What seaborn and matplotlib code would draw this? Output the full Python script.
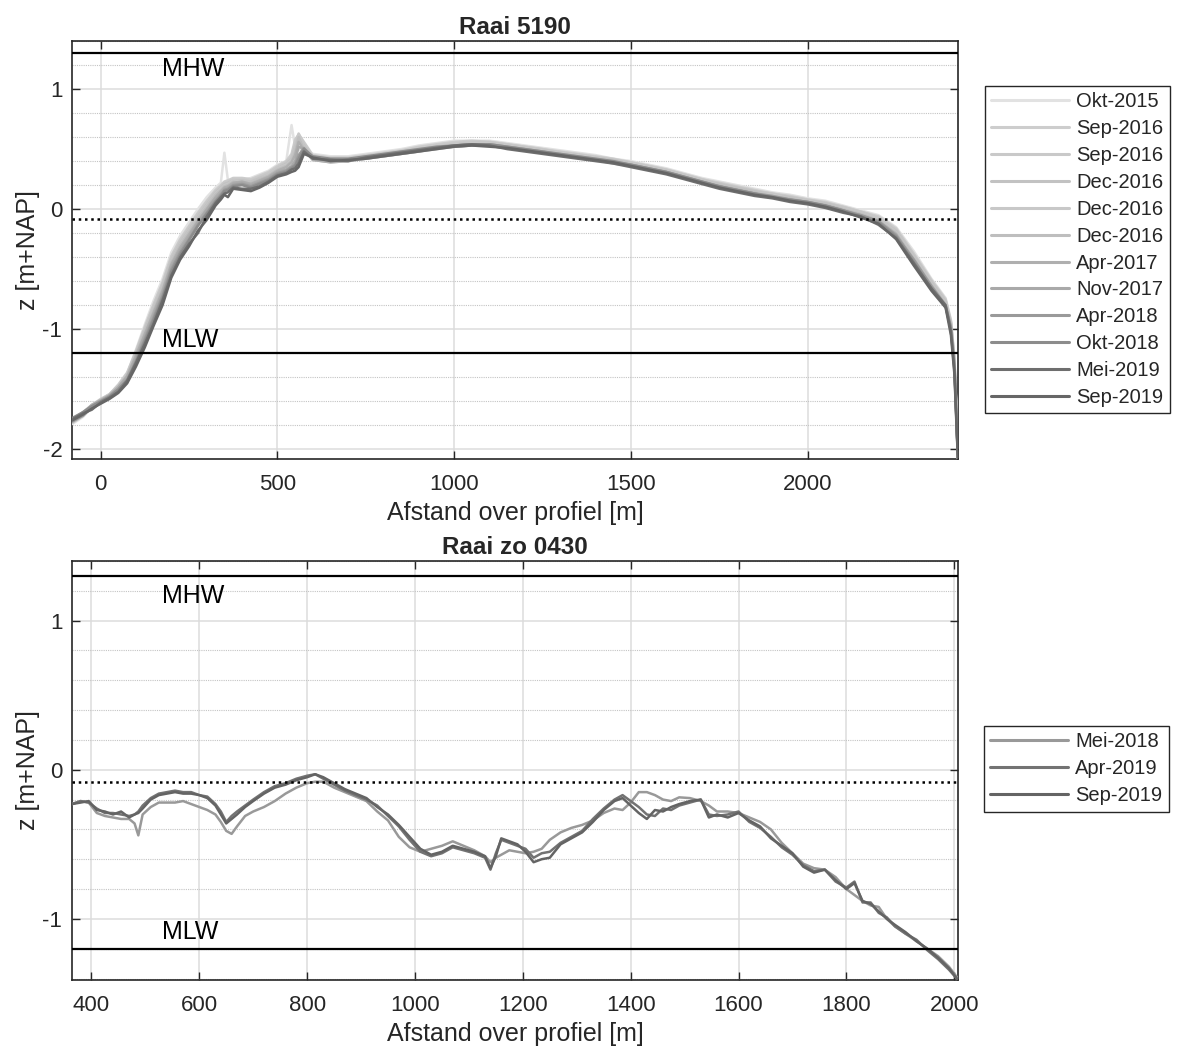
import pandas as pd
import matplotlib
matplotlib.use("Agg")
import matplotlib.pyplot as plt
from matplotlib.lines import Line2D
from matplotlib.ticker import MultipleLocator
import seaborn as sns

# ==========================================
# Data: hoogteprofielen (z in m+NAP)
# ==========================================

MHW = 1.3
MLW = -1.2
DOT_LEVEL = -0.08

# --- Raai 5190 ---
top_labels = ['Okt-2015', 'Sep-2016', 'Sep-2016', 'Dec-2016', 'Dec-2016', 'Dec-2016',
              'Apr-2017', 'Nov-2017', 'Apr-2018', 'Okt-2018', 'Mei-2019', 'Sep-2019']
top_colors = ['#e2e2e2', '#cdcdcd', '#c9c9c9', '#c2c2c2', '#c8c8c8', '#bebebe',
              '#afafaf', '#a9a9a9', '#9a9a9a', '#8c8c8c', '#6e6e6e', '#666666']

x_top = [-81, -50, -25, 0, 25, 50, 75, 100, 125, 150,
         175, 200, 225, 250, 275, 300, 325, 340, 350, 360,
         375, 400, 425, 450, 475, 500, 525, 540, 550, 560,
         575, 600, 650, 700, 750, 800, 850, 900, 950, 1000,
         1050, 1100, 1150, 1200, 1250, 1300, 1350, 1400, 1450, 1500,
         1550, 1600, 1650, 1700, 1750, 1800, 1850, 1900, 1950, 2000,
         2050, 2100, 2150, 2200, 2250, 2300, 2350, 2390, 2405, 2415,
         2422, 2425]

z_okt2015 = [-1.79, -1.73, -1.65, -1.60, -1.55, -1.47, -1.37, -1.17, -0.96, -0.76,
             -0.58, -0.36, -0.22, -0.11, 0.00, 0.10, 0.18, 0.22, 0.47, 0.24,
             0.22, 0.24, 0.26, 0.29, 0.32, 0.37, 0.40, 0.70, 0.52, 0.50,
             0.48, 0.46, 0.44, 0.44, 0.46, 0.48, 0.50, 0.53, 0.55, 0.57,
             0.57, 0.57, 0.55, 0.53, 0.51, 0.49, 0.47, 0.45, 0.42, 0.40,
             0.37, 0.34, 0.30, 0.26, 0.23, 0.20, 0.17, 0.14, 0.12, 0.09,
             0.07, 0.03, -0.01, -0.05, -0.15, -0.35, -0.58, -0.74, -0.92, -1.24,
             -1.78, -2.08]
z_sep2016a = [-1.78, -1.72, -1.64, -1.59, -1.54, -1.46, -1.36, -1.18, -0.98, -0.79,
              -0.61, -0.39, -0.25, -0.14, -0.03, 0.07, 0.16, 0.20, 0.23, 0.24,
              0.26, 0.26, 0.25, 0.28, 0.31, 0.36, 0.40, 0.46, 0.58, 0.62,
              0.56, 0.45, 0.43, 0.43, 0.45, 0.47, 0.49, 0.52, 0.54, 0.56,
              0.57, 0.56, 0.54, 0.52, 0.50, 0.48, 0.46, 0.44, 0.42, 0.39,
              0.36, 0.33, 0.29, 0.25, 0.22, 0.19, 0.16, 0.13, 0.11, 0.08,
              0.06, 0.02, -0.02, -0.06, -0.16, -0.37, -0.59, -0.75, -0.93, -1.25,
              -1.79, -2.08]
z_sep2016b = [-1.77, -1.71, -1.63, -1.58, -1.54, -1.47, -1.37, -1.19, -0.99, -0.80,
              -0.62, -0.40, -0.26, -0.15, -0.04, 0.06, 0.15, 0.19, 0.22, 0.23,
              0.25, 0.25, 0.24, 0.27, 0.30, 0.35, 0.39, 0.44, 0.55, 0.63,
              0.55, 0.44, 0.42, 0.42, 0.44, 0.46, 0.48, 0.51, 0.53, 0.55,
              0.56, 0.56, 0.54, 0.52, 0.50, 0.47, 0.45, 0.43, 0.41, 0.39,
              0.36, 0.33, 0.29, 0.25, 0.21, 0.18, 0.15, 0.13, 0.10, 0.08,
              0.05, 0.02, -0.02, -0.07, -0.17, -0.38, -0.60, -0.76, -0.94, -1.26,
              -1.80, -2.08]
z_dec2016a = [-1.76, -1.70, -1.63, -1.59, -1.55, -1.48, -1.38, -1.20, -1.01, -0.82,
              -0.64, -0.42, -0.28, -0.17, -0.06, 0.04, 0.14, 0.18, 0.21, 0.22,
              0.24, 0.24, 0.23, 0.26, 0.29, 0.34, 0.38, 0.42, 0.52, 0.60,
              0.53, 0.43, 0.41, 0.41, 0.43, 0.45, 0.48, 0.50, 0.52, 0.54,
              0.55, 0.55, 0.53, 0.51, 0.49, 0.47, 0.45, 0.43, 0.41, 0.38,
              0.35, 0.32, 0.28, 0.24, 0.21, 0.18, 0.15, 0.12, 0.10, 0.07,
              0.05, 0.01, -0.03, -0.08, -0.18, -0.39, -0.61, -0.77, -0.95, -1.27,
              -1.80, -2.08]
z_dec2016b = [-1.78, -1.72, -1.65, -1.61, -1.57, -1.50, -1.41, -1.23, -1.03, -0.83,
              -0.65, -0.43, -0.29, -0.18, -0.07, 0.03, 0.13, 0.17, 0.20, 0.21,
              0.24, 0.23, 0.22, 0.25, 0.29, 0.34, 0.37, 0.41, 0.50, 0.62,
              0.52, 0.42, 0.40, 0.41, 0.43, 0.45, 0.47, 0.49, 0.52, 0.54,
              0.55, 0.55, 0.53, 0.51, 0.49, 0.47, 0.45, 0.43, 0.40, 0.38,
              0.35, 0.32, 0.28, 0.24, 0.20, 0.17, 0.14, 0.12, 0.09, 0.07,
              0.04, 0.01, -0.03, -0.08, -0.19, -0.40, -0.62, -0.78, -0.96, -1.28,
              -1.82, -2.08]
z_dec2016c = [-1.77, -1.71, -1.64, -1.60, -1.56, -1.49, -1.40, -1.22, -1.03, -0.84,
              -0.66, -0.44, -0.30, -0.19, -0.08, 0.02, 0.12, 0.16, 0.19, 0.20,
              0.23, 0.22, 0.22, 0.25, 0.28, 0.33, 0.36, 0.40, 0.48, 0.60,
              0.50, 0.41, 0.39, 0.40, 0.42, 0.44, 0.46, 0.48, 0.51, 0.53,
              0.54, 0.54, 0.52, 0.50, 0.48, 0.46, 0.44, 0.42, 0.40, 0.37,
              0.34, 0.31, 0.27, 0.23, 0.20, 0.17, 0.14, 0.11, 0.09, 0.06,
              0.04, 0.00, -0.04, -0.09, -0.20, -0.41, -0.63, -0.79, -0.97, -1.29,
              -1.83, -2.08]
z_apr2017 = [-1.75, -1.69, -1.63, -1.59, -1.55, -1.48, -1.39, -1.22, -1.04, -0.86,
             -0.68, -0.46, -0.32, -0.21, -0.10, 0.00, 0.10, 0.15, 0.18, 0.19,
             0.22, 0.23, 0.21, 0.24, 0.27, 0.32, 0.35, 0.39, 0.45, 0.56,
             0.49, 0.41, 0.39, 0.40, 0.42, 0.44, 0.46, 0.48, 0.50, 0.52,
             0.53, 0.53, 0.51, 0.49, 0.47, 0.45, 0.43, 0.41, 0.38, 0.36,
             0.33, 0.30, 0.26, 0.22, 0.18, 0.15, 0.13, 0.10, 0.07, 0.05,
             0.02, -0.02, -0.06, -0.11, -0.22, -0.44, -0.66, -0.82, -1.01, -1.33,
             -1.86, -2.08]
z_nov2017 = [-1.76, -1.70, -1.64, -1.60, -1.55, -1.49, -1.40, -1.24, -1.06, -0.88,
             -0.70, -0.48, -0.34, -0.23, -0.11, -0.01, 0.09, 0.13, 0.17, 0.18,
             0.21, 0.22, 0.20, 0.23, 0.26, 0.31, 0.33, 0.36, 0.40, 0.52,
             0.50, 0.42, 0.40, 0.41, 0.42, 0.45, 0.47, 0.49, 0.51, 0.53,
             0.54, 0.54, 0.52, 0.50, 0.48, 0.45, 0.43, 0.41, 0.39, 0.36,
             0.33, 0.30, 0.26, 0.22, 0.19, 0.16, 0.13, 0.10, 0.08, 0.05,
             0.03, -0.01, -0.05, -0.10, -0.21, -0.43, -0.65, -0.81, -0.99, -1.31,
             -1.84, -2.08]
z_apr2018 = [-1.77, -1.72, -1.65, -1.61, -1.57, -1.51, -1.43, -1.26, -1.08, -0.90,
             -0.72, -0.50, -0.36, -0.25, -0.13, -0.03, 0.07, 0.12, 0.16, 0.17,
             0.20, 0.21, 0.19, 0.22, 0.25, 0.30, 0.32, 0.35, 0.37, 0.45,
             0.51, 0.43, 0.41, 0.41, 0.43, 0.45, 0.47, 0.49, 0.51, 0.52,
             0.53, 0.53, 0.51, 0.49, 0.47, 0.45, 0.43, 0.41, 0.39, 0.37,
             0.34, 0.31, 0.27, 0.23, 0.19, 0.16, 0.13, 0.11, 0.08, 0.06,
             0.03, -0.01, -0.05, -0.10, -0.22, -0.42, -0.64, -0.80, -0.98, -1.30,
             -1.85, -2.08]
z_okt2018 = [-1.74, -1.69, -1.64, -1.60, -1.56, -1.50, -1.42, -1.27, -1.10, -0.92,
             -0.74, -0.52, -0.38, -0.26, -0.14, -0.04, 0.06, 0.11, 0.15, 0.16,
             0.19, 0.20, 0.18, 0.21, 0.24, 0.29, 0.31, 0.34, 0.36, 0.42,
             0.50, 0.44, 0.42, 0.42, 0.44, 0.46, 0.48, 0.50, 0.52, 0.53,
             0.54, 0.54, 0.52, 0.50, 0.48, 0.46, 0.44, 0.42, 0.40, 0.37,
             0.34, 0.31, 0.27, 0.23, 0.19, 0.16, 0.13, 0.10, 0.08, 0.06,
             0.03, -0.01, -0.06, -0.11, -0.23, -0.44, -0.66, -0.81, -1.00, -1.32,
             -1.86, -2.08]
z_mei2019 = [-1.75, -1.70, -1.67, -1.61, -1.57, -1.52, -1.43, -1.28, -1.12, -0.95,
             -0.76, -0.55, -0.40, -0.29, -0.20, -0.06, 0.05, 0.10, 0.13, 0.14,
             0.18, 0.17, 0.17, 0.19, 0.23, 0.28, 0.30, 0.33, 0.34, 0.38,
             0.48, 0.42, 0.41, 0.40, 0.43, 0.45, 0.47, 0.49, 0.51, 0.53,
             0.54, 0.53, 0.50, 0.48, 0.46, 0.44, 0.42, 0.40, 0.38, 0.35,
             0.32, 0.29, 0.25, 0.21, 0.17, 0.14, 0.11, 0.09, 0.06, 0.04,
             0.01, -0.03, -0.06, -0.13, -0.24, -0.45, -0.66, -0.80, -1.02, -1.35,
             -1.88, -2.08]
z_sep2019 = [-1.76, -1.71, -1.66, -1.62, -1.58, -1.53, -1.45, -1.31, -1.15, -0.97,
             -0.80, -0.57, -0.42, -0.31, -0.18, -0.09, 0.03, 0.08, 0.12, 0.10,
             0.17, 0.16, 0.15, 0.18, 0.22, 0.27, 0.29, 0.31, 0.32, 0.35,
             0.46, 0.43, 0.40, 0.41, 0.42, 0.44, 0.46, 0.48, 0.50, 0.52,
             0.53, 0.52, 0.51, 0.49, 0.47, 0.45, 0.43, 0.41, 0.39, 0.36,
             0.33, 0.30, 0.26, 0.22, 0.18, 0.15, 0.12, 0.10, 0.07, 0.05,
             0.02, -0.02, -0.07, -0.12, -0.25, -0.47, -0.68, -0.82, -1.05, -1.38,
             -1.90, -2.08]

top_series = [z_okt2015, z_sep2016a, z_sep2016b, z_dec2016a, z_dec2016b, z_dec2016c,
              z_apr2017, z_nov2017, z_apr2018, z_okt2018, z_mei2019, z_sep2019]

# --- Raai zo 0430 ---
bot_labels = ['Mei-2018', 'Apr-2019', 'Sep-2019']
bot_colors = ['#999999', '#737373', '#646464']

x_bot = [364, 380, 395, 410, 425, 440, 455, 470, 480, 487,
         495, 510, 525, 540, 555, 570, 585, 600, 615, 630,
         640, 650, 660, 670, 685, 700, 720, 740, 760, 780,
         800, 815, 830, 850, 870, 890, 910, 930, 950, 970,
         990, 1010, 1030, 1050, 1070, 1090, 1110, 1130, 1140, 1150,
         1160, 1175, 1190, 1205, 1220, 1235, 1250, 1270, 1290, 1310,
         1330, 1350, 1370, 1385, 1400, 1415, 1430, 1445, 1460, 1475,
         1490, 1510, 1530, 1545, 1560, 1580, 1600, 1620, 1640, 1660,
         1680, 1700, 1720, 1740, 1760, 1780, 1800, 1815, 1830, 1845,
         1860, 1875, 1890, 1910, 1930, 1950, 1970, 1990, 2007]

zb_mei2018 = [-0.23, -0.21, -0.22, -0.29, -0.31, -0.32, -0.33, -0.33, -0.36, -0.44,
              -0.30, -0.25, -0.22, -0.22, -0.22, -0.21, -0.23, -0.25, -0.27, -0.30,
              -0.35, -0.41, -0.43, -0.38, -0.31, -0.28, -0.25, -0.21, -0.16, -0.12,
              -0.09, -0.08, -0.08, -0.12, -0.15, -0.18, -0.21, -0.28, -0.34, -0.45,
              -0.52, -0.55, -0.53, -0.51, -0.48, -0.51, -0.54, -0.58, -0.62, -0.59,
              -0.57, -0.54, -0.55, -0.56, -0.55, -0.53, -0.47, -0.42, -0.39, -0.37,
              -0.34, -0.29, -0.26, -0.27, -0.22, -0.15, -0.15, -0.17, -0.20, -0.21,
              -0.185, -0.19, -0.21, -0.24, -0.28, -0.28, -0.29, -0.32, -0.35, -0.40,
              -0.49, -0.56, -0.63, -0.66, -0.67, -0.72, -0.80, -0.84, -0.88, -0.91,
              -0.92, -1.00, -1.05, -1.10, -1.15, -1.20, -1.25, -1.32, -1.40]
zb_apr2019 = [-0.23, -0.21, -0.22, -0.26, -0.29, -0.29, -0.30, -0.31, -0.30, -0.28,
              -0.24, -0.19, -0.16, -0.15, -0.14, -0.15, -0.15, -0.17, -0.18, -0.23,
              -0.28, -0.35, -0.31, -0.28, -0.24, -0.20, -0.15, -0.11, -0.09, -0.06,
              -0.04, -0.03, -0.06, -0.10, -0.14, -0.17, -0.20, -0.24, -0.31, -0.38,
              -0.47, -0.55, -0.58, -0.56, -0.52, -0.54, -0.56, -0.59, -0.67, -0.56,
              -0.47, -0.49, -0.51, -0.53, -0.59, -0.56, -0.55, -0.49, -0.45, -0.41,
              -0.33, -0.26, -0.20, -0.17, -0.21, -0.25, -0.30, -0.31, -0.26, -0.27,
              -0.24, -0.22, -0.20, -0.30, -0.31, -0.30, -0.28, -0.35, -0.39, -0.45,
              -0.52, -0.57, -0.64, -0.68, -0.67, -0.75, -0.79, -0.75, -0.89, -0.89,
              -0.96, -0.99, -1.05, -1.10, -1.14, -1.21, -1.27, -1.34, -1.41]
zb_sep2019 = [-0.23, -0.22, -0.21, -0.27, -0.28, -0.30, -0.28, -0.32, -0.30, -0.29,
              -0.26, -0.20, -0.17, -0.16, -0.15, -0.16, -0.16, -0.17, -0.19, -0.24,
              -0.30, -0.36, -0.33, -0.30, -0.25, -0.21, -0.16, -0.12, -0.10, -0.07,
              -0.05, -0.03, -0.05, -0.09, -0.13, -0.16, -0.19, -0.25, -0.30, -0.37,
              -0.45, -0.53, -0.57, -0.55, -0.51, -0.53, -0.55, -0.58, -0.66, -0.58,
              -0.46, -0.48, -0.50, -0.55, -0.62, -0.60, -0.59, -0.50, -0.46, -0.42,
              -0.35, -0.27, -0.21, -0.19, -0.24, -0.29, -0.33, -0.27, -0.28, -0.25,
              -0.23, -0.21, -0.20, -0.32, -0.30, -0.32, -0.29, -0.34, -0.38, -0.46,
              -0.51, -0.56, -0.65, -0.69, -0.67, -0.74, -0.80, -0.76, -0.88, -0.90,
              -0.95, -1.00, -1.04, -1.09, -1.15, -1.20, -1.26, -1.33, -1.41]

bot_series = [zb_mei2018, zb_apr2019, zb_sep2019]


def long_frame(x, series):
    frames = []
    for i, z in enumerate(series):
        frames.append(pd.DataFrame({'afstand': x, 'z': z, 'reeks': i}))
    return pd.concat(frames, ignore_index=True)


def draw_panel(fig, ax, x, series, labels, colors, xlim, ylim, xticks, yticks,
               title, legend_box):
    df = long_frame(x, series)
    palette = {i: c for i, c in enumerate(colors)}
    sns.lineplot(data=df, x='afstand', y='z', hue='reeks', palette=palette,
                 hue_order=list(range(len(series))), estimator=None, sort=False,
                 linewidth=1.8, legend=False, ax=ax, zorder=3)

    # reference levels
    ax.axhline(MHW, color='black', lw=1.6, zorder=4)
    ax.axhline(MLW, color='black', lw=1.6, zorder=4)
    ax.axhline(DOT_LEVEL, color='black', lw=1.8, ls=(0, (1, 1.5)), zorder=4)
    ax.text(0.1016, 1.168, 'MHW', transform=ax.get_yaxis_transform(),
            ha='left', va='center', fontsize=18, color='black')
    ax.text(0.1016, -1.09, 'MLW', transform=ax.get_yaxis_transform(),
            ha='left', va='center', fontsize=18, color='black')

    ax.set_xlim(*xlim)
    ax.set_ylim(*ylim)
    ax.set_xticks(xticks)
    ax.set_yticks(yticks)
    ax.yaxis.set_minor_locator(MultipleLocator(0.2))
    ax.set_axisbelow(True)
    ax.grid(which='major', color='#dcdcdc', lw=1.1, ls='-')
    ax.grid(which='minor', axis='y', color='#c4c4c4', lw=0.8, ls=(0, (1, 1)))
    ax.tick_params(which='major', direction='in', length=6, width=1,
                   top=True, right=True, labelsize=16, colors='#262626')
    ax.tick_params(axis='x', which='major', pad=11)
    ax.tick_params(axis='y', which='major', pad=7)
    ax.tick_params(which='minor', length=0)
    for sp in ax.spines.values():
        sp.set_visible(True)
        sp.set_linewidth(1.2)
        sp.set_color('#262626')

    ax.set_xlabel('Afstand over profiel [m]', fontsize=18, color='#262626', labelpad=4)
    ax.set_ylabel('z [m+NAP]', fontsize=18, color='#262626', labelpad=2)
    ax.set_title(title, fontsize=17.5, fontweight='bold', pad=5)

    handles = [Line2D([], [], color=c, lw=2.2) for c in colors]
    left, top = legend_box
    leg = ax.legend(handles, labels, loc='upper left',
                    bbox_to_anchor=(left / 1178, 1 - top / 1049),
                    bbox_transform=fig.transFigure, fontsize=14.5,
                    handlelength=3.85, handletextpad=0.35, labelspacing=0.39,
                    borderpad=0.32, borderaxespad=0, frameon=True, fancybox=False,
                    framealpha=1, edgecolor='#262626')
    leg.get_frame().set_linewidth(1.0)


sns.set_theme(style='ticks')
plt.rcParams['font.family'] = ['Liberation Sans', 'DejaVu Sans']
plt.rcParams['axes.unicode_minus'] = False

fig = plt.figure(figsize=(11.78, 10.49), dpi=100)
ax_top = fig.add_axes([72 / 1178, 1 - 459 / 1049, 886 / 1178, 418 / 1049])
ax_bot = fig.add_axes([72 / 1178, 1 - 980 / 1049, 886 / 1178, 419 / 1049])

draw_panel(fig, ax_top, x_top, top_series, top_labels, top_colors,
           (-81, 2425), (-2.08, 1.4), [0, 500, 1000, 1500, 2000], [-2, -1, 0, 1],
           'Raai 5190', (985, 86))
draw_panel(fig, ax_bot, x_bot, bot_series, bot_labels, bot_colors,
           (364, 2007), (-1.41, 1.4), [400, 600, 800, 1000, 1200, 1400, 1600, 1800, 2000],
           [-1, 0, 1], 'Raai zo 0430', (984, 726))

fig.savefig('out.png', dpi=100, facecolor='white')
